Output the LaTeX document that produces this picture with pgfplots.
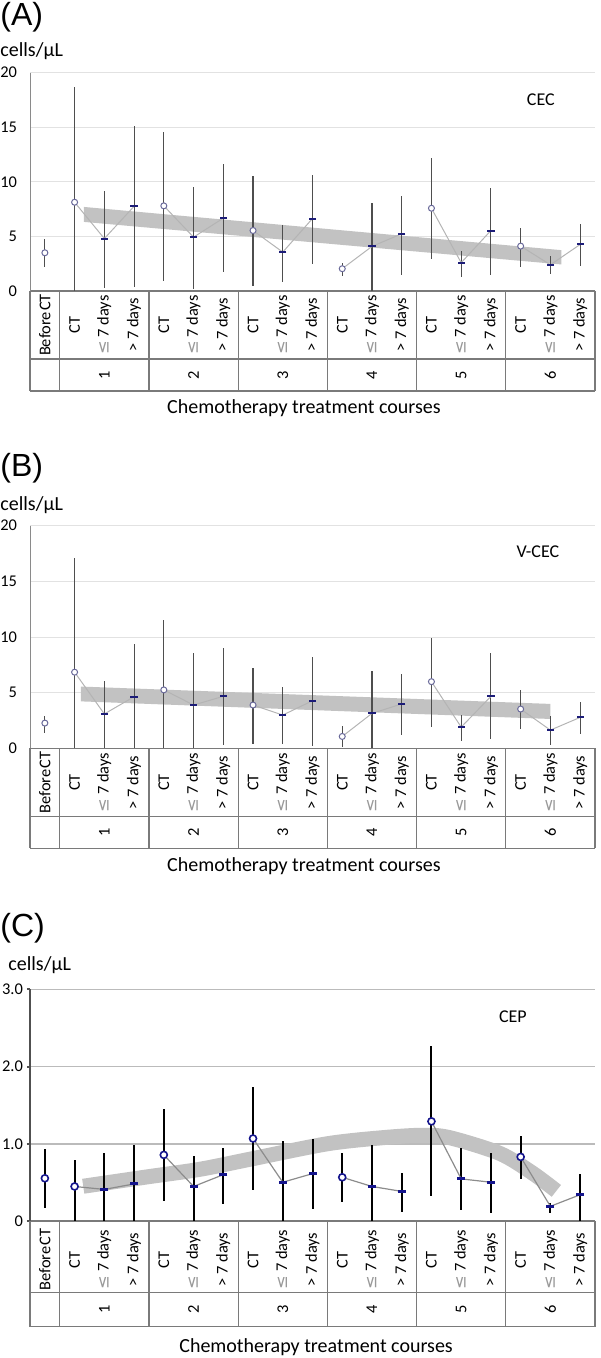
\documentclass[border=0pt]{standalone}
\usepackage{fontspec}
\setmainfont{Carlito}
\newfontfamily\dejavu{DejaVu Sans}
\newfontfamily\arialf{Liberation Sans}
\usepackage{pgfplots}
\usepackage{pgfplotstable}
\pgfplotsset{compat=1.18}

\definecolor{whisk}{HTML}{4E4E4E}
\definecolor{circAB}{HTML}{6A6A9A}
\definecolor{navyd}{HTML}{1C1C78}
\definecolor{navyc}{HTML}{14148C}
\definecolor{bandc}{HTML}{C2C2C2}
\definecolor{connAB}{HTML}{B4B4B4}
\definecolor{connC}{HTML}{8C8C8C}
\definecolor{gridAB}{HTML}{E2E2E2}
\definecolor{gridC}{HTML}{BBBBBB}
\definecolor{axAB}{HTML}{8A8A8A}
\definecolor{axC}{HTML}{505050}
\definecolor{tabl}{HTML}{7A7A7A}

\pgfplotstableread{
x y lo hi m
0 3.5 2.2 4.8 c
1 8.13 0 18.66 c
2 4.8 0.3 9.2 d
3 7.76 0.4 15.07 d
4 7.8 0.9 14.6 c
5 4.93 0.2 9.56 d
6 6.67 1.7 11.63 d
7 5.54 0.5 10.53 c
8 3.56 0.8 6.06 d
9 6.64 2.5 10.65 d
10 2.04 1.4 2.6 c
11 4.08 0 8.07 d
12 5.24 1.5 8.74 d
13 7.58 2.95 12.15 c
14 2.59 1.3 3.68 d
15 5.54 1.46 9.44 d
16 4.11 2.22 5.81 c
17 2.4 1.6 3.17 d
18 4.26 2.28 6.15 d
}\dA

\pgfplotstableread{
x y lo hi m
0 2.28 1.38 2.94 c
1 6.85 0 17.06 c
2 3.1 0 6.1 d
3 4.65 0 9.34 d
4 5.26 0 11.53 c
5 3.9 0 8.56 d
6 4.68 0.3 9.0 d
7 3.9 0.4 7.2 c
8 3.0 0.4 5.56 d
9 4.29 0.24 8.2 d
10 1.08 0.1 2.0 c
11 3.15 0 6.97 d
12 4.0 1.23 6.7 d
13 6.0 1.95 9.94 c
14 1.92 0.7 3.0 d
15 4.68 0.84 8.56 d
16 3.54 1.71 5.29 c
17 1.65 0.27 2.94 d
18 2.79 1.32 4.2 d
}\dB

\pgfplotstableread{
x y lo hi m
0 0.553 0.17 0.936 c
1 0.447 0 0.787 c
2 0.409 0 0.876 d
3 0.48 0 0.98 d
4 0.856 0.255 1.45 c
5 0.447 0 0.838 d
6 0.6 0.225 0.94 d
7 1.068 0.396 1.737 c
8 0.502 0 1.035 d
9 0.613 0.15 1.068 d
10 0.566 0.24 0.88 c
11 0.447 0 0.99 d
12 0.383 0.12 0.62 d
13 1.29 0.32 2.26 c
14 0.545 0.14 0.95 d
15 0.502 0.1 0.88 d
16 0.83 0.545 1.106 c
17 0.19 0.1 0.23 d
18 0.34 0 0.61 d
}\dC

\newcommand\lsev{{\dejavu\color{black!40}≤}\ 7 days}
\newcommand\gsev{>\ 7 days}
\newcommand\bct{Before\kern0.6pt CT}

\newcommand\tabgrid[3]{%
  \draw[tabl, line width=0.6pt] ([yshift=-#1]axis cs:-0.5,0) -- ([yshift=-#1]axis cs:18.5,0);
  \draw[tabl, line width=0.6pt] ([yshift=-#2]axis cs:-0.5,0) -- ([yshift=-#2]axis cs:18.5,0);
  \pgfplotsinvokeforeach{-0.5,0.5,3.5,6.5,9.5,12.5,15.5,18.5}{%
    \draw[tabl, line width=0.6pt] (axis cs:##1,0) -- ([yshift=-#2]axis cs:##1,0);}
  \node[rotate=90, font=\fontsize{8.2}{9}\selectfont] at ([yshift=-#3]axis cs:2,0) {1};
  \node[rotate=90, font=\fontsize{8.2}{9}\selectfont] at ([yshift=-#3]axis cs:5,0) {2};
  \node[rotate=90, font=\fontsize{8.2}{9}\selectfont] at ([yshift=-#3]axis cs:8,0) {3};
  \node[rotate=90, font=\fontsize{8.2}{9}\selectfont] at ([yshift=-#3]axis cs:11,0) {4};
  \node[rotate=90, font=\fontsize{8.2}{9}\selectfont] at ([yshift=-#3]axis cs:14,0) {5};
  \node[rotate=90, font=\fontsize{8.2}{9}\selectfont] at ([yshift=-#3]axis cs:17,0) {6};
}

\pgfplotsset{
  panel/.style={
    scale only axis, width=282.5pt, anchor=south west,
    xmin=-0.5, xmax=18.5, ymin=0, enlargelimits=false, clip=false,
    axis lines=left, axis line style={-},
    x axis line style={draw=tabl, line width=0.6pt},
    xtick={0,...,18},
    xticklabels={\bct,CT,\lsev,\gsev,CT,\lsev,\gsev,CT,\lsev,\gsev,CT,\lsev,\gsev,CT,\lsev,\gsev,CT,\lsev,\gsev},
    xtick style={draw=none},
    xticklabel style={yshift=-#1, rotate=90, anchor=center, inner sep=0pt, font=\fontsize{8.2}{9}\selectfont},
    ymajorgrids,
    yticklabel style={font=\fontsize{8.2}{9}\selectfont, /pgf/number format/assume math mode=true},
  },
  panelAB/.style={
    panel=#1,
    ymax=20, ytick={0,5,10,15,20},
    y axis line style={draw=axAB, line width=0.5pt},
    grid style={draw=gridAB, line width=0.5pt},
    ytick style={draw=none}, major tick length=0pt,
    yticklabel style={xshift=-3pt},
  },
  whAB/.style={draw=none, mark=none, forget plot,
    error bars/.cd, y dir=both, y explicit, error mark=none,
    error bar style={draw=whisk, line width=0.55pt, solid}},
  mkAB/.style={scatter, only marks, scatter src=explicit symbolic,
    scatter/classes={
      c={mark=*, mark size=1.5pt, fill=white, draw=circAB, line width=0.5pt},
      d={mark=-, mark size=1.8pt, draw=navyd, line width=1pt}}},
}

\begin{document}
\begin{tikzpicture}
\useasboundingbox (0,0) rectangle (300pt,679pt);

% ---------------- (A) ----------------
\node[anchor=west, inner sep=0pt, font=\arialf\fontsize{16}{16}\selectfont] at (0pt,670.5pt) {(A)};
\node[anchor=west, inner sep=0pt, font=\fontsize{10}{12}\selectfont] at (0pt,653.5pt) {cells/µL};
\begin{axis}[panelAB=17pt, at={(15pt,533.5pt)}, height=109.15pt]
  \addplot[draw=none, fill=bandc, forget plot] coordinates {(1.31,7.7) (17.37,3.74) (17.37,2.43) (1.31,6.33)} -- cycle;
  \addplot[whAB] table[x=x, y=y, y error plus expr=\thisrow{hi}-\thisrow{y}, y error minus expr=\thisrow{y}-\thisrow{lo}] {\dA};
  \pgfplotsinvokeforeach{1:3,4:6,7:9,10:12,13:15,16:18}{
    \addplot[connAB, line width=0.5pt, mark=none, restrict x to domain=#1] table[x=x, y=y] {\dA};}
  \addplot[mkAB] table[x=x, y=y, meta=m] {\dA};
  \node[font=\fontsize{9}{10}\selectfont] at (axis cs:16.68,17.5) {CEC};
  \tabgrid{34pt}{50pt}{42pt}
  \node[font=\fontsize{10}{12}\selectfont] at ([yshift=-58.5pt]axis cs:8.71,0) {Chemotherapy treatment courses};
\end{axis}

% ---------------- (B) ----------------
\node[anchor=west, inner sep=0pt, font=\arialf\fontsize{16}{16}\selectfont] at (0pt,445pt) {(B)};
\node[anchor=west, inner sep=0pt, font=\fontsize{10}{12}\selectfont] at (0pt,426.5pt) {cells/µL};
\begin{axis}[panelAB=17pt, at={(15pt,304.75pt)}, height=111.4pt]
  \addplot[draw=none, fill=bandc, forget plot] coordinates {(1.21,5.56) (17.0,4.0) (17.0,2.65) (1.21,4.23)} -- cycle;
  \addplot[whAB] table[x=x, y=y, y error plus expr=\thisrow{hi}-\thisrow{y}, y error minus expr=\thisrow{y}-\thisrow{lo}] {\dB};
  \pgfplotsinvokeforeach{1:3,4:6,7:9,10:12,13:15,16:18}{
    \addplot[connAB, line width=0.5pt, mark=none, restrict x to domain=#1] table[x=x, y=y] {\dB};}
  \addplot[mkAB] table[x=x, y=y, meta=m] {\dB};
  \node[font=\fontsize{9}{10}\selectfont] at (axis cs:16.58,17.66) {V-CEC};
  \tabgrid{34pt}{50pt}{42pt}
  \node[font=\fontsize{10}{12}\selectfont] at ([yshift=-58.6pt]axis cs:8.71,0) {Chemotherapy treatment courses};
\end{axis}

% ---------------- (C) ----------------
\node[anchor=west, inner sep=0pt, font=\arialf\fontsize{16}{16}\selectfont] at (0pt,215pt) {(C)};
\node[anchor=west, inner sep=0pt, font=\fontsize{10}{12}\selectfont] at (4pt,196.5pt) {cells/µL};
\begin{axis}[panel=17.8pt, at={(15pt,68.5pt)}, height=115.85pt,
  ymax=3, ytick={0,1,2,3}, yticklabels={0,1.0,2.0,3.0},
  y axis line style={draw=axC, line width=1pt},
  grid style={draw=gridC, line width=0.75pt},
  ytick style={draw=axC, line width=1pt}, tick align=outside, major tick length=1.5pt,
  yticklabel style={xshift=1.5pt}]
  \addplot[smooth, draw=bandc, line width=7.5pt, line cap=butt, mark=none, forget plot] coordinates {
    (1.29,0.45) (3.42,0.57) (5.22,0.67) (6.9,0.8) (9.5,1.0) (11.4,1.08) (12.7,1.11) (13.6,1.08) (15.3,0.875) (16.4,0.62) (17.2,0.39)};
  \addplot[draw=none, mark=none, forget plot,
    error bars/.cd, y dir=both, y explicit, error mark=none,
    error bar style={draw=black, line width=1pt, solid}]
    table[x=x, y=y, y error plus expr=\thisrow{hi}-\thisrow{y}, y error minus expr=\thisrow{y}-\thisrow{lo}] {\dC};
  \pgfplotsinvokeforeach{1:3,4:6,7:9,10:12,13:15,16:18}{
    \addplot[connC, line width=0.6pt, mark=none, restrict x to domain=#1] table[x=x, y=y] {\dC};}
  \addplot[scatter, only marks, scatter src=explicit symbolic,
    scatter/classes={
      c={mark=*, mark size=1.75pt, fill=white, draw=navyc, line width=0.8pt},
      d={mark=-, mark size=2pt, draw=navyc, line width=1.5pt}}]
    table[x=x, y=y, meta=m] {\dC};
  \node[font=\fontsize{9}{10}\selectfont] at (axis cs:15.74,2.65) {CEP};
  \tabgrid{35.65pt}{52.85pt}{44.25pt}
  \node[font=\fontsize{10}{12}\selectfont] at ([yshift=-62.85pt]axis cs:9.12,0) {Chemotherapy treatment courses};
\end{axis}
\end{tikzpicture}
\end{document}
